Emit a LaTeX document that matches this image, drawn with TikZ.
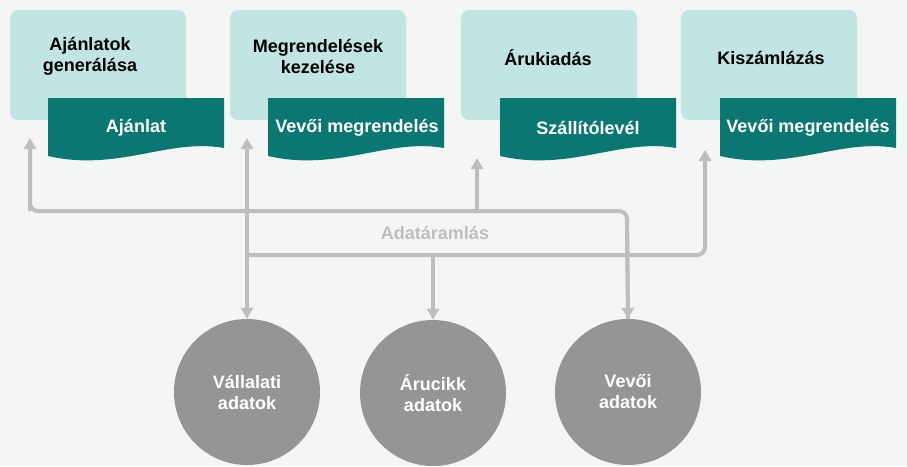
\documentclass[tikz,border=0pt]{standalone}
\usepackage{fontspec}
\setmainfont{Liberation Sans}
\usetikzlibrary{arrows.meta}
\definecolor{bg}{HTML}{F3F6F5}
\definecolor{boxc}{HTML}{C2E4E3}
\definecolor{docc}{HTML}{0B7672}
\definecolor{circc}{HTML}{959595}
\definecolor{linec}{HTML}{BEBEBE}
\begin{document}
\begin{tikzpicture}[x=1pt,y=-1pt,
  boxst/.style={fill=boxc,rounded corners=8pt},
  docst/.style={fill=docc},
  lab/.style={font=\fontsize{18}{21}\selectfont\bfseries,align=center},
  dlab/.style={font=\fontsize{18}{21}\selectfont\bfseries,text=white},
  circst/.style={circle,fill=circc,minimum size=146pt,inner sep=0pt,font=\fontsize{18}{21}\selectfont\bfseries,text=white,align=center},
  conn/.style={draw=linec,line width=4pt},
  arr/.style={conn,-{Triangle[length=11pt,width=12pt]}}]
\fill[bg] (0,0) rectangle (907,466);
\useasboundingbox (0,0) rectangle (907,466);
% boxes
\foreach \x in {10,230,461,681}{\fill[boxst] (\x,10) rectangle (\x+176,120);}
\foreach \x in {48,268,500,720}{
  \fill[docst] (\x,98) -- (\x+176,98) -- (\x+176,148) .. controls (\x+120,138) and (\x+70,172) .. (\x,156) -- cycle;}
\node[lab] (t1) at (90,56) {Ajánlatok\\generálása};
\node[lab] (t2) at (318,56) {Megrendelések\\kezelése};
\node[lab] (t3) at (548,58) {Árukiadás};
\node[lab] (t4) at (771,58) {Kiszámlázás};
\node[dlab] (d1) at (136,128) {Ajánlat};
\node[dlab] (d2) at (357,128) {Vevői megrendelés};
\node[dlab] (d3) at (588,128) {Szállítólevél};
\node[dlab] (d4) at (808,128) {Vevői megrendelés};
% circles
\node[circst] (c1) at (247,392) {Vállalati\\adatok};
\node[circst] (c2) at (433,393) {Árucikk\\adatok};
\node[circst] (c3) at (628,392) {Vevői\\adatok};
% coordinates
\coordinate (a1) at (30,138);
\coordinate (a1b) at (30,211);
\coordinate (a3) at (477,158);
\coordinate (a3b) at (477,211);
\coordinate (a4) at (627,211);
\coordinate (b1) at (247,138);
\coordinate (b2) at (247,255);
\coordinate (b3) at (433,255);
\coordinate (b4) at (705,255);
\coordinate (b5) at (705,150);
% lines
\draw[conn,rounded corners=8pt] (30,150) |- (a4) -- (c3.north);
\draw[arr] (a1b) -- (a1);
\draw[arr] (a3b) -- (a3);
\draw[arr] (a4) ++(0,20) -- (c3.north);
\draw[conn,rounded corners=8pt] (b2) -| (705,160);
\draw[arr] (b2) -- (b1);
\draw[arr] (b2) -- (c1.north);
\draw[arr] (b3) -- (c2.north);
\draw[arr] (705,200) -- (b5);
\node[font=\fontsize{18}{21}\selectfont\bfseries,text=linec] (fl) at (435,233) {Adatáramlás};
\end{tikzpicture}
\end{document}
